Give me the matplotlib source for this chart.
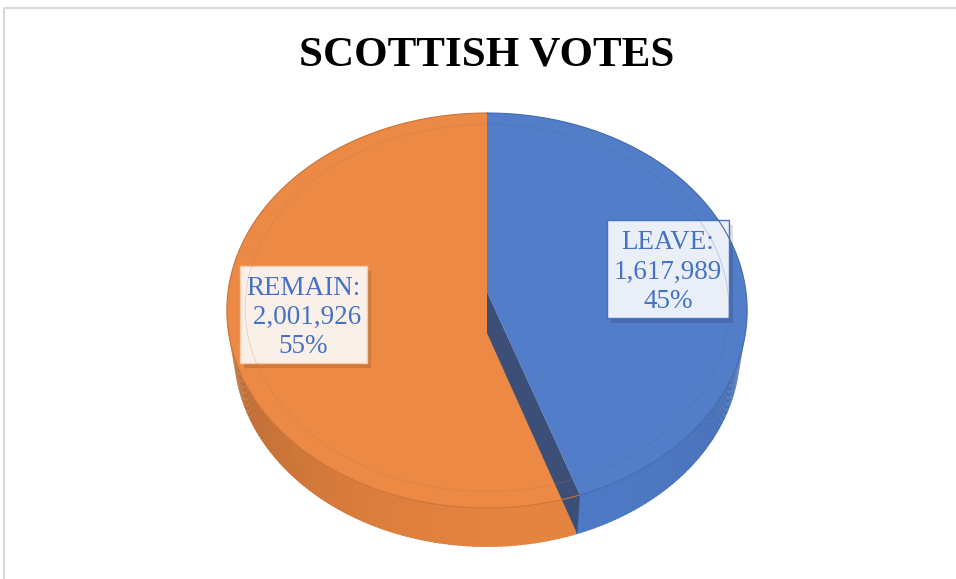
import numpy as np
import matplotlib
matplotlib.use('Agg')
import matplotlib.pyplot as plt
from matplotlib.patches import Polygon, Rectangle
from matplotlib.colors import to_rgb

# vote counts
names = ['LEAVE', 'REMAIN']
votes = [1617989, 2001926]
num_pad = ['', ' ']

top_colors = ['#517DC9', '#EC8944']
side_colors = ['#4F7BC8', '#EA8641']
cut_color = '#3B4F78'
box_fills = ['#E9EEF7', '#FAF0EA']
box_edges = ['#4472C4', '#F8CBAD']
text_color = '#4472C4'

# pie geometry (pixel units on screen)
cx, cy = 487, 292
b_far, b_near, half_w, depth_c = 179, 216, 259, 41
r = b_near / b_far
s = b_far * 2 * r / ((r + 1) * half_w)
c = np.sqrt(1 - s ** 2)
D = c * (r + 1) / (r - 1)
f = half_w * D
h = depth_c * D / (f * c - depth_c * s)


def proj(phi, z, rr=1.0):
    # phi in degrees, clockwise from the far side of the pie
    p = np.radians(phi)
    X = rr * np.sin(p)
    Y = rr * np.cos(p)
    yc = Y * s + z * c
    d = D + Y * c - z * s
    return cx + f * X / d, cy - f * yc / d


def rim(a0, a1, z, rr=1.0, n=200):
    phis = np.linspace(a0, a1, n)
    xs, ys = proj(phis, z, rr)
    return np.column_stack([xs, ys])


fig = plt.figure(figsize=(9.56, 5.79), dpi=100)
ax = fig.add_axes([0, 0, 1, 1])
ax.set_xlim(0, 956)
ax.set_ylim(579, 0)
ax.axis('off')

ax.add_patch(Rectangle((4.5, 7.5), 1200, 1200, fill=False,
                       edgecolor='#D9D9D9', lw=1.5))

total = sum(votes)
fracs = [v / total for v in votes]
bounds = np.concatenate([[0], np.cumsum(fracs) * 360])

# side visible where cos(phi) < -1/(D*c)
lim = np.degrees(np.arccos(-1 / (D * c)))
vis0, vis1 = lim, 360 - lim


def draw_side(a0, a1, color):
    lo, hi = max(a0, vis0), min(a1, vis1)
    if hi <= lo:
        return
    base = np.array(to_rgb(color))
    steps = np.linspace(lo, hi, int(hi - lo) + 2)
    for p0, p1 in zip(steps[:-1], steps[1:]):
        pm = np.radians((p0 + p1) / 2)
        shade = 0.78 + 0.2 * np.cos(pm - np.radians(165))
        col = np.clip(base * shade, 0, 1)
        t = rim(p0, p1 + 0.3, 0, n=4)
        b = rim(p0, p1 + 0.3, -h, n=4)
        ax.add_patch(Polygon(np.vstack([t, b[::-1]]), closed=True,
                             facecolor=col, edgecolor='none'))


def draw_top(a0, a1, color):
    pts = np.vstack([[cx, cy], rim(a0, a1, 0)])
    ax.add_patch(Polygon(pts, closed=True, facecolor=color, edgecolor='none'))
    edge = np.array(to_rgb(color)) * 0.85
    ax.plot(*rim(a0, a1, 0).T, color=edge, lw=0.8)
    ax.plot(*rim(a0, a1, 0, rr=0.93).T, color=edge, lw=0.6, alpha=0.3)


# REMAIN slice first, then LEAVE slice with its cut face
draw_side(bounds[1], bounds[2], side_colors[1])
draw_top(bounds[1], bounds[2], top_colors[1])
draw_side(bounds[0], bounds[1], side_colors[0])

th = bounds[1]
tx, ty = proj(th, 0)
bx, by = proj(th, -h)
_, ccy = proj(0, -h, rr=0.0)
ax.add_patch(Polygon([[cx, cy], [tx, ty], [bx, by], [cx, ccy]], closed=True,
                     facecolor=cut_color, edgecolor='none'))
draw_top(bounds[0], bounds[1], top_colors[0])

ax.text(487, 55, 'SCOTTISH VOTES', ha='center', va='center', fontsize=31,
        fontweight='bold', family='Liberation Serif', color='black')

# data labels
box_centers = [(668, 269), (303.5, 314.5)]
box_sizes = [(122, 98), (127, 97)]
for i in range(2):
    bxc, byc = box_centers[i]
    w, hh = box_sizes[i]
    ax.add_patch(Rectangle((bxc - w / 2 + 4, byc - hh / 2 + 5), w, hh,
                           facecolor='black', alpha=0.12, edgecolor='none'))
    ax.add_patch(Rectangle((bxc - w / 2, byc - hh / 2), w, hh,
                           facecolor=box_fills[i], edgecolor=box_edges[i], lw=1.0))
    pct = round(100 * fracs[i])
    label = f'{names[i]}:\n{num_pad[i]}{votes[i]:,}\n{pct}%'
    ax.text(bxc, byc + 3, label, ha='center', va='center',
            multialignment='center', fontsize=19.5, family='Liberation Serif',
            color=text_color, linespacing=1.22)

fig.savefig('out.png', dpi=100)
